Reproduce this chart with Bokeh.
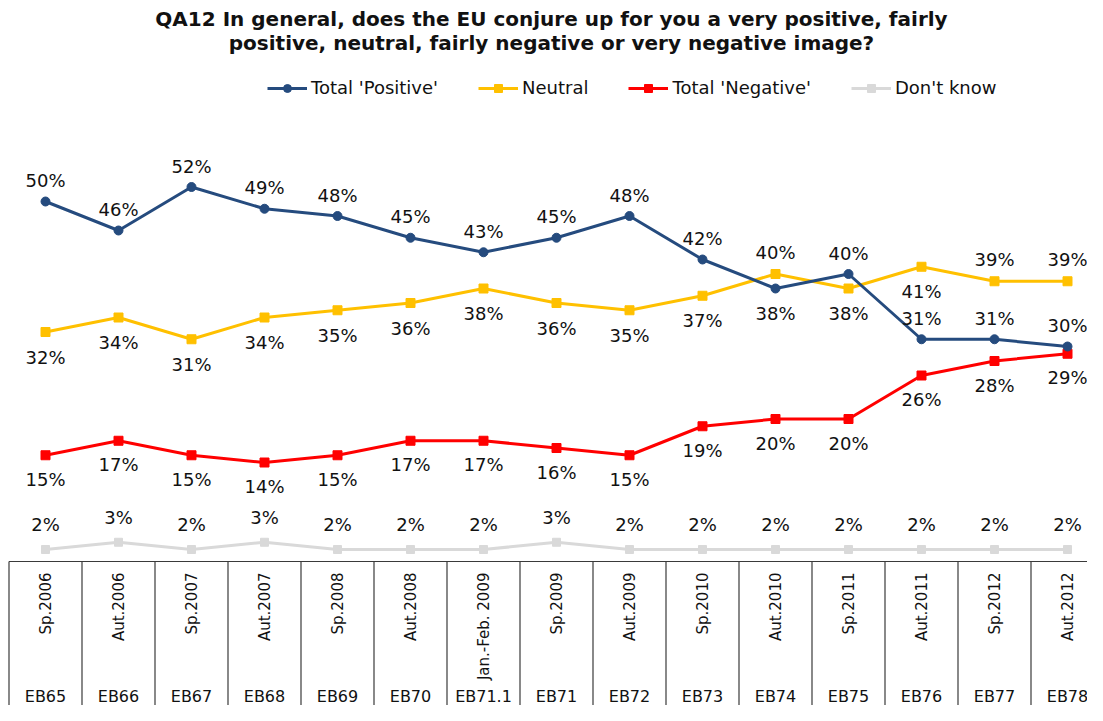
import math
from bokeh.plotting import figure
from bokeh.models import Range1d, Label, Legend, LegendItem, ColumnDataSource
from bokeh.embed import file_html
from bokeh.resources import INLINE
from bokeh.core.properties import value

# ---------------- data ----------------
periods = ["Sp.2006", "Aut.2006", "Sp.2007", "Aut.2007", "Sp.2008", "Aut.2008",
           "Jan.-Feb. 2009", "Sp.2009", "Aut.2009", "Sp.2010", "Aut.2010",
           "Sp.2011", "Aut.2011", "Sp.2012", "Aut.2012"]
waves = ["EB65", "EB66", "EB67", "EB68", "EB69", "EB70", "EB71.1", "EB71",
         "EB72", "EB73", "EB74", "EB75", "EB76", "EB77", "EB78"]
positive = [50, 46, 52, 49, 48, 45, 43, 45, 48, 42, 38, 40, 31, 31, 30]
neutral = [32, 34, 31, 34, 35, 36, 38, 36, 35, 37, 40, 38, 41, 39, 39]
negative = [15, 17, 15, 14, 15, 17, 17, 16, 15, 19, 20, 20, 26, 28, 29]
dont_know = [2, 3, 2, 3, 2, 2, 2, 3, 2, 2, 2, 2, 2, 2, 2]

title_lines = ["QA12 In general, does the EU conjure up for you a very positive, fairly",
               "positive, neutral, fairly negative or very negative image?"]

# label side for each point (styling): "a" above, "b" below
pos_side = ["a"] * 10 + ["b"] + ["a"] * 4
neu_side = ["b"] * 10 + ["a", "b", "b", "a", "a"]
neg_side = ["b"] * 15
dk_side = ["a"] * 15

FONT = "DejaVu Sans"
W, H = 1087, 705
PX = 7.25          # pixels per percentage point
Y50 = 201          # pixel row of the 50% level
X0, DX = 45, 73    # first column centre and column pitch (pixels)

x_lo = (0 - X0) / DX
x_hi = (W - X0) / DX
y_top = 50 + Y50 / PX
y_bot = 50 - (H - Y50) / PX

p = figure(width=W, height=H, output_backend="svg", toolbar_location=None,
           x_range=Range1d(x_lo, x_hi), y_range=Range1d(y_bot, y_top),
           x_axis_location=None, y_axis_location=None,
           min_border=0, min_border_left=0, min_border_right=0,
           min_border_top=0, min_border_bottom=0)
p.outline_line_color = None
p.xgrid.visible = False
p.ygrid.visible = False
p.background_fill_color = "white"
p.border_fill_color = "white"

n = len(periods)
xs = list(range(n))

# ---------------- table below the chart ----------------
table_top = 50 - (561 - Y50) / PX
p.segment(x0=[-0.5], y0=[table_top], x1=[n - 0.5], y1=[table_top],
          line_color="#3a3a3a", line_width=1.2)
p.segment(x0=[k - 0.5 for k in range(n + 1)], y0=[table_top] * (n + 1),
          x1=[k - 0.5 for k in range(n + 1)], y1=[y_bot - 5] * (n + 1),
          line_color="#3a3a3a", line_width=1.2)

per_y = 50 - (572 - Y50) / PX
p.text(x=xs, y=[per_y] * n, text=periods, angle=math.pi / 2,
       text_align="right", text_baseline="middle",
       text_font=value(FONT), text_font_size="15px", text_color="#111111")
wave_y = 50 - (696 - Y50) / PX
p.text(x=xs, y=[wave_y] * n, text=waves,
       text_align="center", text_baseline="middle",
       text_font=value(FONT), text_font_size="16px", text_color="#111111")

# ---------------- series ----------------
series = [
    ("Total 'Positive'", positive, "#254B7E", "circle", 9, pos_side, (-21, 25)),
    ("Neutral", neutral, "#FFC000", "square", 9, neu_side, (-22, 25)),
    ("Total 'Negative'", negative, "#FF0000", "square", 9, neg_side, (-22, 24)),
    ("Don't know", dont_know, "#D9D9D9", "square", 8, dk_side, (-25, 25)),
]

legend_items = []
for name, vals, col, marker, msize, sides, (oa, ob) in reversed(series):
    r1 = p.line(xs, vals, line_color=col, line_width=3)
    r2 = p.scatter(xs, vals, marker=marker, size=msize, fill_color=col, line_color=col)
    legend_items.insert(0, LegendItem(label=name, renderers=[r1, r2]))
    offs = [oa if s == "a" else ob for s in sides]
    src = ColumnDataSource(dict(x=xs, y=vals, t=[f"{v}%" for v in vals], off=offs))
    p.text(x="x", y="y", text="t", y_offset="off", source=src,
           text_align="center", text_baseline="middle",
           text_font=value(FONT), text_font_size="18px", text_color="#111111")

legend = Legend(items=legend_items, orientation="horizontal",
                location=(267, H - 88 - 10), padding=0, margin=0, spacing=40,
                glyph_width=40, glyph_height=20, label_height=20, label_standoff=4,
                label_text_font=FONT, label_text_font_size="18px",
                label_text_color="#111111", border_line_color=None,
                background_fill_alpha=0)
p.add_layout(legend, "center")

# ---------------- title ----------------
for i, line in enumerate(title_lines):
    p.add_layout(Label(x=551, y=H - 18 - 24 * i, x_units="screen", y_units="screen",
                       text=line, text_align="center", text_baseline="middle",
                       text_font=FONT, text_font_size="20px", text_font_style="bold",
                       text_color="#111111"))

open("out.html", "w").write(file_html(p, INLINE))
